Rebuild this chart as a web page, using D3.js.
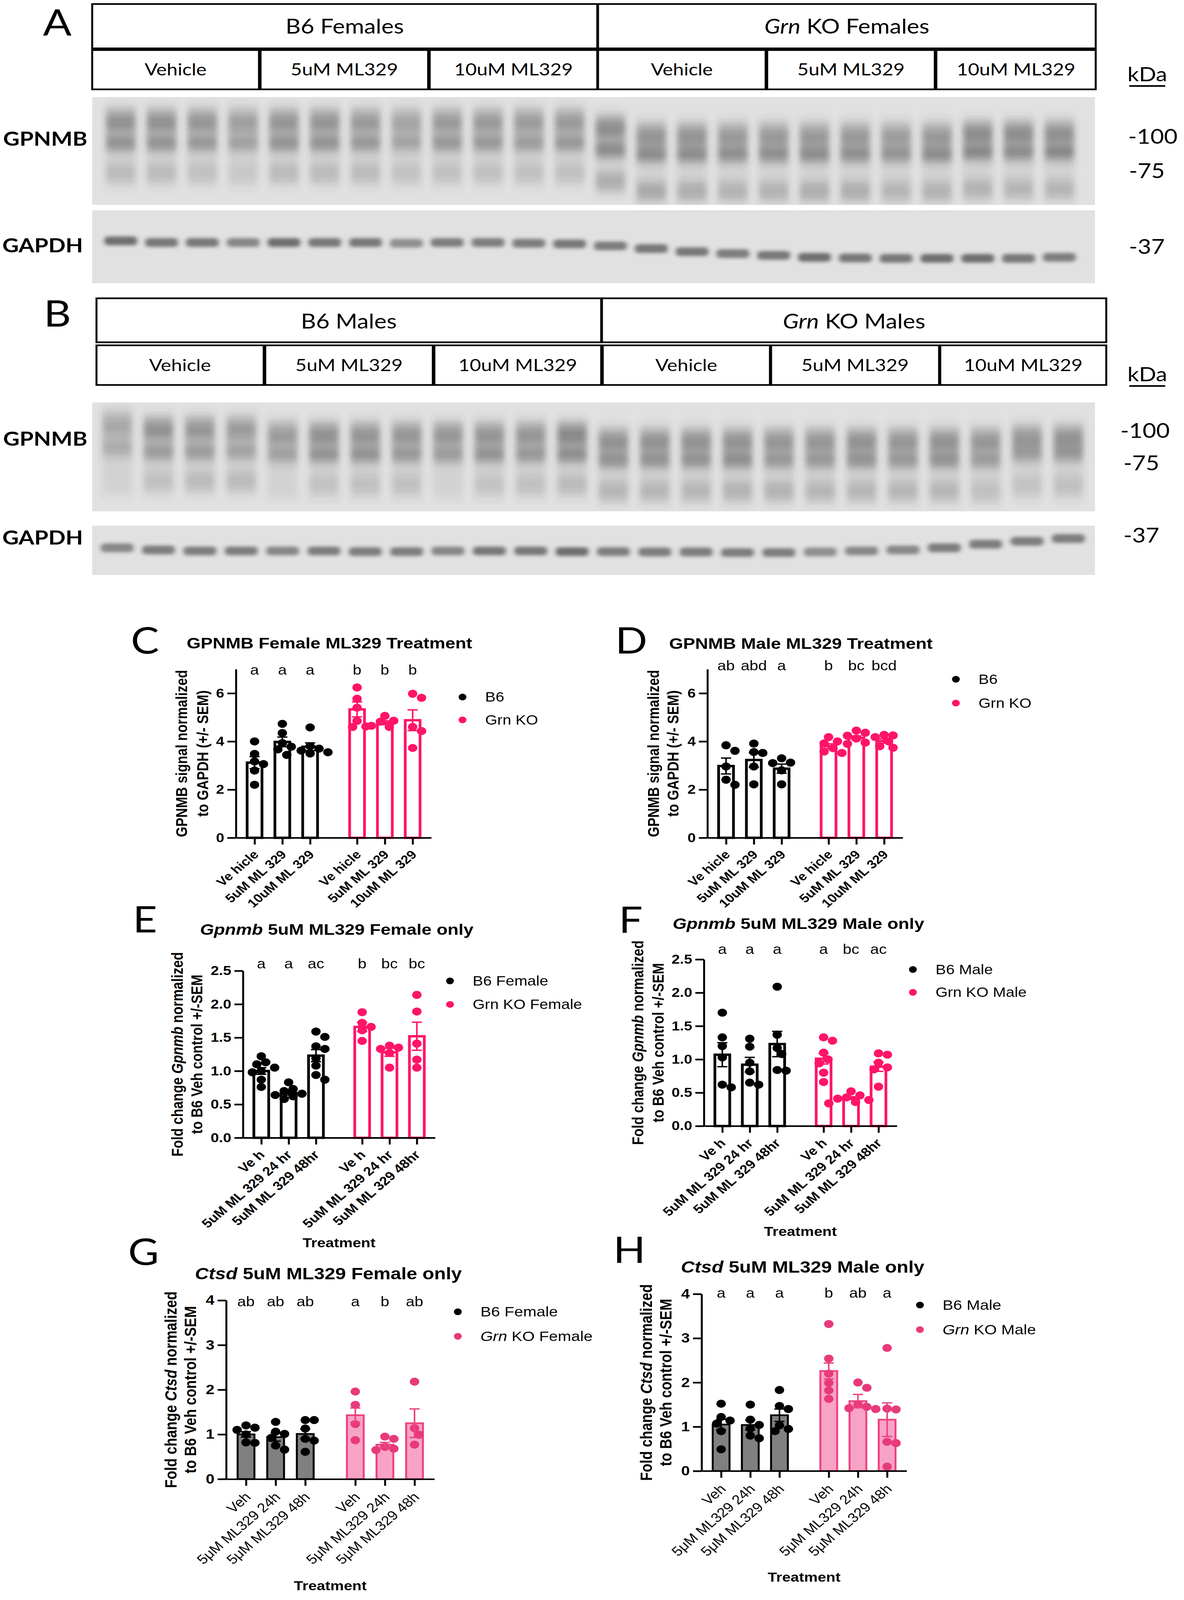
<!DOCTYPE html>
<html><head><meta charset="utf-8">
<script src="https://cdn.jsdelivr.net/npm/d3@7"></script>
<style>html,body{margin:0;padding:0;background:#fff;overflow:hidden}svg{display:block}</style>
</head><body>
<svg id="fig" viewBox="0 0 3031 4763" preserveAspectRatio="none"></svg>
<script>
// ---------------- DATA ----------------
const treatmentsAB = ["Vehicle", "5uM ML329", "10uM ML329"];
const headersA = [[{t:"B6 Females"}], [{t:"Grn", i:true}, {t:" KO Females"}]];
const headersB = [[{t:"B6 Males"}], [{t:"Grn", i:true}, {t:" KO Males"}]];
const kdaA = ["-100", "-75", "-37"];
const kdaB = ["-100", "-75", "-37"];

const blotA_upper = [0.55,0.55,0.5,0.4,0.5,0.5,0.45,0.35,0.45,0.45,0.45,0.45, 0.6,0.5,0.5,0.45,0.45,0.45,0.45,0.4,0.45,0.6,0.6,0.55];
const blotA_main  = [0.6,0.6,0.55,0.45,0.6,0.6,0.55,0.4,0.55,0.55,0.5,0.55, 0.7,0.7,0.7,0.65,0.65,0.7,0.65,0.6,0.7,0.75,0.7,0.75];
const blotA_lower = [0.25,0.25,0.2,0.1,0.25,0.25,0.25,0.15,0.2,0.2,0.2,0.2, 0.4,0.45,0.4,0.35,0.35,0.4,0.4,0.3,0.35,0.35,0.3,0.3];
const blotA_upperPos = [0.21,0.21,0.21,0.21,0.21,0.21,0.21,0.21,0.21,0.21,0.21,0.21, 0.27,0.34,0.34,0.34,0.34,0.34,0.34,0.34,0.34,0.32,0.32,0.32];
const blotA_mainPos  = [0.44,0.44,0.44,0.44,0.44,0.44,0.44,0.44,0.44,0.44,0.44,0.44, 0.50,0.54,0.54,0.54,0.54,0.54,0.54,0.54,0.54,0.52,0.52,0.52];
const blotA_lowerPos = [0.70,0.70,0.70,0.70,0.70,0.70,0.70,0.70,0.70,0.70,0.70,0.70, 0.78,0.87,0.87,0.87,0.87,0.87,0.87,0.87,0.87,0.85,0.85,0.85];
const gapdhA_pos = [0.419,0.442,0.442,0.442,0.442,0.442,0.442,0.452,0.442,0.442,0.452,0.461,0.488,0.525,0.567,0.594,0.618,0.645,0.654,0.659,0.659,0.659,0.659,0.645];
const gapdhA_int = [0.7,0.65,0.65,0.55,0.7,0.65,0.65,0.5,0.6,0.6,0.6,0.65,0.6,0.65,0.65,0.6,0.65,0.7,0.65,0.65,0.7,0.7,0.65,0.6];

const blotB_upper = [0.3,0.55,0.5,0.45,0.45,0.55,0.5,0.5,0.5,0.5,0.5,0.65,0.55,0.55,0.55,0.55,0.5,0.5,0.55,0.5,0.55,0.5,0.5,0.55];
const blotB_main  = [0.3,0.5,0.5,0.4,0.45,0.6,0.6,0.55,0.5,0.6,0.55,0.65,0.6,0.6,0.6,0.65,0.55,0.55,0.6,0.55,0.6,0.5,0.5,0.55];
const blotB_lower = [0,0.2,0.25,0.25,0,0.15,0.2,0.2,0,0.15,0.2,0.25,0.3,0.3,0.3,0.35,0.35,0.3,0.3,0.3,0.3,0.2,0.15,0.2];
const blotB_upperPos = [0.18,0.23,0.23,0.23,0.28,0.28,0.28,0.28,0.28,0.28,0.28,0.28,0.34,0.34,0.34,0.34,0.34,0.34,0.34,0.34,0.34,0.34,0.31,0.31];
const blotB_mainPos  = [0.44,0.47,0.47,0.47,0.49,0.49,0.49,0.49,0.49,0.49,0.49,0.49,0.54,0.54,0.54,0.54,0.54,0.54,0.54,0.54,0.54,0.54,0.48,0.48];
const blotB_lowerPos = [0.72,0.72,0.72,0.72,0.75,0.75,0.75,0.75,0.75,0.75,0.75,0.75,0.81,0.81,0.81,0.81,0.81,0.81,0.81,0.81,0.81,0.81,0.76,0.76];
const gapdhB_pos = [0.449,0.49,0.51,0.51,0.51,0.51,0.524,0.524,0.51,0.51,0.51,0.524,0.524,0.531,0.531,0.544,0.544,0.531,0.51,0.49,0.449,0.374,0.313,0.259];
const gapdhB_int = [0.55,0.6,0.6,0.6,0.55,0.6,0.6,0.6,0.55,0.65,0.65,0.7,0.6,0.6,0.6,0.6,0.6,0.5,0.55,0.55,0.6,0.6,0.6,0.6];

const labelsCD = ["Ve hicle", "5uM ML 329", "10uM ML 329"];
const labelsEF = ["Ve h", "5uM ML 329 24 hr", "5uM ML 329 48hr"];
const labelsGH = ["Veh", "5\u03bcM ML329 24h", "5\u03bcM ML329 48h"];
const ticksCD = [0, 2, 4, 6];
const ticksEF = [0, 0.5, 1, 1.5, 2, 2.5];
const ticksGH = [0, 1, 2, 3, 4];

const meanC = [3.12, 3.98, 3.78, 5.33, 4.78, 4.88];
const semC  = [0.25, 0.2, 0.16, 0.31, 0.08, 0.43];
const ptsC = [[4.0,3.48,3.17,3.06,2.79,2.2],[4.73,4.35,3.93,3.78,3.67,3.44],[4.58,3.8,3.7,3.62,3.55,3.5],
              [6.24,5.77,5.4,4.85,4.62,4.6],[5.06,4.86,4.82,4.65,4.6],[5.98,5.81,4.6,4.43,3.73]];
const lettersC = ["a","a","a","b","b","b"];

const meanD = [2.98, 3.23, 2.87, 3.8, 4.15, 4.02];
const semD  = [0.33, 0.3, 0.19, 0.1, 0.08, 0.09];
const ptsD = [[3.84,3.61,2.96,2.41,2.2],[3.91,3.56,3.52,2.96,2.22],[3.3,3.12,3.1,2.8,2.22],
              [4.18,4.0,3.92,3.72,3.58,3.52],[4.45,4.36,4.24,4.12,3.95,3.9],[4.27,4.25,4.18,4.0,3.8,3.74]];
const lettersD = ["ab","abd","a","b","bc","bcd"];

const meanE = [1.0, 0.67, 1.23, 1.66, 1.28, 1.52];
const semE  = [0.05, 0.03, 0.09, 0.07, 0.06, 0.21];
const ptsE = [[1.22,1.13,1.1,1.05,1.0,0.98,0.87,0.76],[0.83,0.73,0.7,0.66,0.64,0.62,0.58],[1.59,1.51,1.37,1.33,1.19,1.08,0.94,0.87],
              [1.88,1.72,1.66,1.61,1.45],[1.38,1.35,1.33,1.27,1.05],[2.14,1.89,1.41,1.17,1.05]];
const lettersE = ["a","a","ac","b","bc","bc"];

const meanF = [1.07, 0.92, 1.23, 1.01, 0.42, 0.89];
const semF  = [0.18, 0.11, 0.19, 0.08, 0.02, 0.07];
const ptsF = [[1.70,1.33,1.20,1.03,0.62,0.58],[1.31,1.19,0.95,0.82,0.65,0.62],[2.09,1.37,1.17,1.08,0.84,0.83],
              [1.33,1.28,1.1,1.0,0.94,0.8,0.66],[0.52,0.46,0.43,0.41,0.39,0.36,0.34],[1.09,1.07,0.95,0.88,0.85,0.59]];
const lettersF = ["a","a","a","a","bc","ac"];

const meanG = [1.0, 0.94, 1.01, 1.43, 0.77, 1.25];
const semG  = [0.06, 0.09, 0.11, 0.16, 0.05, 0.32];
const ptsG = [[1.20,1.15,1.10,1.0,0.82,0.81],[1.28,1.06,1.01,0.92,0.75,0.66],[1.32,1.32,1.13,0.9,0.86,0.61],
              [1.96,1.66,1.23,0.87],[0.95,0.9,0.72,0.68,0.65],[2.18,1.14,0.99,0.77]];
const lettersG = ["ab","ab","ab","a","b","ab"];

const meanH = [1.05, 1.04, 1.26, 2.26, 1.58, 1.16];
const semH  = [0.12, 0.11, 0.14, 0.18, 0.15, 0.38];
const ptsH = [[1.52,1.22,1.14,1.07,0.9,0.49],[1.5,1.16,1.04,0.96,0.8,0.74],[1.83,1.47,1.4,1.03,0.95,0.9],
              [3.32,2.54,2.2,1.99,1.82,1.63],[2.0,1.88,1.5,1.45,1.42,1.4],[2.78,1.41,1.39,0.66,0.63,0.10]];
const lettersH = ["a","a","a","b","ab","a"];

// ---------------- DRAWING ----------------
const ARIAL = "'Liberation Sans', Arial, Helvetica, sans-serif";
const CAL = "Lato, 'Open Sans', sans-serif";
const PINK = "#ff1468";
const svg = d3.select("#fig");
// the figure is laid out on a 3031x4763 canvas and stretched to fill the visible page
function fitSvg() {
  const W = window.innerWidth || 3031, H = window.innerHeight || 4763;
  svg.attr("width", W).attr("height", H);
}
fitSvg();
window.addEventListener("resize", fitSvg);

svg.append("rect").attr("width", 3031).attr("height", 4763).attr("fill", "#fff");
const defs = svg.append("defs");
defs.append("filter").attr("id", "blurG").attr("filterUnits", "userSpaceOnUse").attr("x", 0).attr("y", 0).attr("width", 3031).attr("height", 1800)
  .append("feGaussianBlur").attr("stdDeviation", "8 14");
defs.append("filter").attr("id", "blurH").attr("filterUnits", "userSpaceOnUse").attr("x", 0).attr("y", 0).attr("width", 3031).attr("height", 1800)
  .append("feGaussianBlur").attr("stdDeviation", "6 5");

function richText(sel, parts) {
  parts.forEach(p => sel.append("tspan").text(p.t).attr("font-style", p.i ? "italic" : null));
  return sel;
}

function panelLetter(t, x, y) {
  svg.append("text").attr("x", x).attr("y", y).attr("font-family", CAL).attr("font-size", 108)
    .attr("fill", "#000").text(t);
}

function drawBlot(b) {
  const g = svg.append("g");
  b.topBoxes.forEach((bx, i) => {
    g.append("rect").attr("x", bx[0]).attr("y", b.topY[0]).attr("width", bx[1] - bx[0]).attr("height", b.topY[1] - b.topY[0])
      .attr("fill", "#fff").attr("stroke", "#000").attr("stroke-width", 5);
    richText(g.append("text").attr("x", (bx[0] + bx[1]) / 2).attr("y", b.topBase).attr("text-anchor", "middle")
      .attr("font-family", CAL).attr("font-size", 60).attr("fill", "#000"), b.headers[i]);
  });
  b.subBoxes.forEach((bx, i) => {
    g.append("rect").attr("x", bx[0]).attr("y", b.subY[0]).attr("width", bx[1] - bx[0]).attr("height", b.subY[1] - b.subY[0])
      .attr("fill", "#fff").attr("stroke", "#000").attr("stroke-width", 5);
    g.append("text").attr("x", (bx[0] + bx[1]) / 2).attr("y", b.subBase).attr("text-anchor", "middle")
      .attr("font-family", CAL).attr("font-size", 50).attr("fill", "#000").text(treatmentsAB[i % 3]);
  });
  g.append("text").attr("x", b.kdaX).attr("y", b.kdaBase).attr("text-anchor", "middle").attr("font-family", CAL)
    .attr("font-size", 58).attr("fill", "#000").text("kDa");
  g.append("line").attr("x1", b.kdaX - 46).attr("x2", b.kdaX + 46).attr("y1", b.kdaBase + 14).attr("y2", b.kdaBase + 14)
    .attr("stroke", "#000").attr("stroke-width", 5);
  const lx = d3.scaleLinear().domain([0, 23]).range(b.laneRange);
  const gy = d3.scaleLinear().domain([0, 1]).range(b.gpY);
  const hy = d3.scaleLinear().domain([0, 1]).range(b.ghY);
  g.append("rect").attr("x", b.blotX[0]).attr("y", b.gpY[0]).attr("width", b.blotX[1] - b.blotX[0]).attr("height", b.gpY[1] - b.gpY[0]).attr("fill", "#e1e1e1");
  g.append("rect").attr("x", b.blotX[0]).attr("y", b.ghY[0]).attr("width", b.blotX[1] - b.blotX[0]).attr("height", b.ghY[1] - b.ghY[0]).attr("fill", "#e1e1e1");
  const cid = "clip" + b.id;
  const cp = defs.append("clipPath").attr("id", cid);
  cp.append("rect").attr("x", b.blotX[0]).attr("y", b.gpY[0]).attr("width", b.blotX[1] - b.blotX[0]).attr("height", b.gpY[1] - b.gpY[0]);
  cp.append("rect").attr("x", b.blotX[0]).attr("y", b.ghY[0]).attr("width", b.blotX[1] - b.blotX[0]).attr("height", b.ghY[1] - b.ghY[0]);
  const clipG = g.append("g").attr("clip-path", `url(#${cid})`);
  const bandG = clipG.append("g").attr("filter", "url(#blurG)");
  const lw = 76;
  d3.range(24).forEach(i => {
    const cx = lx(i);
    bandG.append("rect").attr("x", cx - lw / 2).attr("y", gy(b.upperPos[i] - 0.14)).attr("width", lw)
      .attr("height", gy(b.lowerPos[i] + 0.13) - gy(b.upperPos[i] - 0.14)).attr("fill", "#444").attr("opacity", 0.1);
    bandG.append("rect").attr("x", cx - lw / 2).attr("y", gy(b.upperPos[i])).attr("width", lw)
      .attr("height", gy(b.mainPos[i]) - gy(b.upperPos[i])).attr("fill", "#444").attr("opacity", 0.12 + 0.15 * b.main[i]);
    [[b.upper, b.upperPos, 0.17], [b.main, b.mainPos, 0.12], [b.lower, b.lowerPos, 0.16]].forEach(([ints, pos, h]) => {
      if (ints[i] <= 0) return;
      bandG.append("rect").attr("x", cx - lw / 2).attr("y", gy(pos[i] - h / 2)).attr("width", lw)
        .attr("height", gy(h) - gy(0)).attr("fill", "#3a3a3a").attr("opacity", Math.min(1, ints[i] * 0.62));
    });
  });
  const gaG = clipG.append("g").attr("filter", "url(#blurH)");
  d3.range(24).forEach(i => {
    const cx = lx(i);
    gaG.append("rect").attr("x", cx - 42).attr("y", hy(b.gaPos[i]) - 13).attr("width", 84).attr("height", 26).attr("rx", 10)
      .attr("fill", "#2a2a2a").attr("opacity", Math.min(1, b.gaInt[i] * 0.9));
  });
  g.append("text").attr("x", 8).attr("y", b.gpLabelBase).attr("font-family", CAL).attr("font-weight", "bold").attr("font-size", 58).attr("fill", "#000").text("GPNMB");
  g.append("text").attr("x", 6).attr("y", b.ghLabelBase).attr("font-family", CAL).attr("font-weight", "bold").attr("font-size", 58).attr("fill", "#000").text("GAPDH");
  b.kda.forEach((k, i) => {
    g.append("text").attr("x", b.kdaPos[i][0]).attr("y", b.kdaPos[i][1]).attr("font-family", CAL).attr("font-size", 60).attr("fill", "#000").text(k);
  });
}

drawBlot({
  id: "A", headers: headersA, kda: kdaA,
  topBoxes: [[236, 1529], [1531, 2805]], topY: [12, 144], topBase: 100,
  subBoxes: [[236, 663], [667, 1096], [1100, 1529], [1531, 1960], [1964, 2393], [2397, 2805]], subY: [149, 266], subBase: 225,
  kdaX: 2937, kdaBase: 242,
  blotX: [236, 2803], gpY: [289, 610], ghY: [626, 843], laneRange: [309, 2712],
  upper: blotA_upper, main: blotA_main, lower: blotA_lower,
  upperPos: blotA_upperPos, mainPos: blotA_mainPos, lowerPos: blotA_lowerPos,
  gaPos: gapdhA_pos, gaInt: gapdhA_int,
  gpLabelBase: 434, ghLabelBase: 751,
  kdaPos: [[2888, 428], [2890, 530], [2890, 756]]
});
drawBlot({
  id: "B", headers: headersB, kda: kdaB,
  topBoxes: [[247, 1539], [1541, 2832]], topY: [888, 1019], topBase: 978,
  subBoxes: [[247, 675], [679, 1108], [1112, 1539], [1543, 1971], [1974, 2404], [2407, 2832]], subY: [1028, 1146], subBase: 1105,
  kdaX: 2937, kdaBase: 1135,
  blotX: [236, 2803], gpY: [1198, 1522], ghY: [1565, 1712], laneRange: [300, 2735],
  upper: blotB_upper, main: blotB_main, lower: blotB_lower,
  upperPos: blotB_upperPos, mainPos: blotB_mainPos, lowerPos: blotB_lowerPos,
  gaPos: gapdhB_pos, gaInt: gapdhB_int,
  gpLabelBase: 1327, ghLabelBase: 1621,
  kdaPos: [[2868, 1304], [2876, 1400], [2876, 1615]]
});

panelLetter("A", 110, 106);
panelLetter("B", 112, 972);

function swarm(vals, y, r) {
  const placed = [];
  return vals.map(v => {
    const py = y(v);
    let off = 0;
    for (let k = 0; k < 30; k++) {
      const cand = k === 0 ? 0 : (k % 2 ? 1 : -1) * Math.ceil(k / 2) * r * 0.95;
      if (placed.every(p => Math.hypot(p.x - cand, p.y - py) >= r * 1.7)) { off = cand; break; }
    }
    placed.push({ x: off, y: py });
    return { x: off, y: py };
  });
}

function drawChart(c) {
  const g = svg.append("g").attr("font-family", ARIAL);
  const y = d3.scaleLinear().domain([0, c.yMax]).range([c.zero, c.top]);
  const x = d3.scaleLinear().domain([-0.67, 6.36]).range([c.x0, c.x1]);
  const xs = d3.range(6).map(i => i + (i >= 3 ? 0.69 : 0));
  const colDot = i => i >= 3 ? c.koDot : "#000";
  c.means.forEach((m, i) => {
    g.append("rect").attr("x", x(xs[i]) - c.barW / 2).attr("y", y(m)).attr("width", c.barW).attr("height", y(0) - y(m))
      .attr("fill", i >= 3 ? c.koFill : c.b6Fill).attr("stroke", i >= 3 ? c.koStroke : "#000").attr("stroke-width", c.barSW);
  });
  c.pts.forEach((arr, i) => {
    swarm(arr, y, c.r).forEach(p => {
      g.append("circle").attr("cx", x(xs[i]) + p.x).attr("cy", p.y).attr("r", c.r).attr("fill", colDot(i));
    });
  });
  c.means.forEach((m, i) => {
    const cx = x(xs[i]);
    const col = i >= 3 ? c.koStroke : "#000";
    const lo = y(m - c.sems[i]), hi = y(m + c.sems[i]);
    g.append("line").attr("x1", cx).attr("x2", cx).attr("y1", lo).attr("y2", hi).attr("stroke", col).attr("stroke-width", 4);
    [lo, hi].forEach(yy => g.append("line").attr("x1", cx - 13).attr("x2", cx + 13).attr("y1", yy).attr("y2", yy).attr("stroke", col).attr("stroke-width", 4));
  });
  const ya = g.append("g").attr("transform", `translate(${c.x0},0)`)
    .call(d3.axisLeft(y).tickValues(c.ticks).tickFormat(c.fmt).tickSize(22).tickSizeOuter(0).tickPadding(8));
  ya.select(".domain").attr("stroke", "#000").attr("stroke-width", 5);
  ya.selectAll(".tick line").attr("stroke", "#000").attr("stroke-width", 5);
  ya.selectAll(".tick text").attr("font-size", c.tickFs).attr("font-weight", "bold").attr("fill", "#000").attr("font-family", ARIAL);
  const xa = g.append("g").attr("transform", `translate(0,${c.zero})`)
    .call(d3.axisBottom(x).tickValues(xs).tickSize(20).tickSizeOuter(0).tickFormat((d, i) => c.labels[i % 3]));
  xa.select(".domain").attr("stroke", "#000").attr("stroke-width", 5);
  xa.selectAll(".tick line").attr("stroke", "#000").attr("stroke-width", 5);
  xa.selectAll(".tick text").attr("x", 0).attr("y", 0).attr("dy", 0)
    .attr("transform", `translate(${c.lblDx},${c.lblDy}) rotate(-45)`).attr("text-anchor", "end")
    .attr("font-size", c.lblFs).attr("font-weight", c.lblW).attr("fill", "#000").attr("font-family", ARIAL);
  c.letters.forEach((t, i) => {
    g.append("text").attr("x", x(xs[i])).attr("y", c.letterBase).attr("text-anchor", "middle")
      .attr("font-size", 40).attr("fill", "#000").text(t);
  });
  c.legend.forEach((parts, i) => {
    g.append("circle").attr("cx", c.legX).attr("cy", c.legY[i]).attr("r", 10).attr("fill", i ? c.koDot : "#000");
    richText(g.append("text").attr("x", c.legX + 58).attr("y", c.legY[i] + 14).attr("font-size", c.legFs).attr("fill", "#000"), parts);
  });
  richText(g.append("text").attr("x", c.titleX).attr("y", c.titleBase).attr("font-size", c.titleFs).attr("font-weight", "bold").attr("fill", "#000"), c.title);
  const cy = (c.zero + c.top) / 2;
  c.ylab.forEach((parts, i) => {
    richText(g.append("text").attr("transform", `translate(${c.ylabX[i]},${cy}) rotate(-90)`).attr("text-anchor", "middle")
      .attr("font-size", c.ylabFs).attr("font-weight", "bold").attr("fill", "#000"), parts);
  });
  if (c.treat) {
    g.append("text").attr("x", (c.x0 + c.x1) / 2).attr("y", c.treatBase).attr("text-anchor", "middle")
      .attr("font-size", 39).attr("font-weight", "bold").attr("fill", "#000").text("Treatment");
  }
}

const styleA = { b6Fill: "#fff", koFill: "#fff", koStroke: PINK, koDot: PINK, barSW: 7, r: 12, barW: 38, lblW: "bold" };
const styleB = { b6Fill: "#808080", koFill: "#f8a3c6", koStroke: "#ec4381", koDot: "#e83a7a", barSW: 5, r: 12, barW: 43, lblW: "normal" };
const fmtInt = d3.format("d"), fmt1 = d3.format(".1f");
const legGP = [[{t:"B6"}], [{t:"Grn KO"}]];
const ylabCD = [[{t:"GPNMB signal normalized"}], [{t:"to GAPDH (+/- SEM)"}]];
const ylabEF = [[{t:"Fold change "}, {t:"Gpnmb", i:true}, {t:" normalized"}], [{t:"to B6 Veh control +/-SEM"}]];
const ylabGH = [[{t:"Fold change "}, {t:"Ctsd", i:true}, {t:" normalized"}], [{t:"to B6 Veh control +/-SEM"}]];

drawChart(Object.assign({}, styleA, {
  x0: 604, x1: 1104, zero: 2494, top: 1992, yMax: 7, ticks: ticksCD, fmt: fmtInt, tickFs: 38,
  means: meanC, sems: semC, pts: ptsC, letters: lettersC, letterBase: 2008, labels: labelsCD, lblFs: 36, lblDx: 12, lblDy: 52,
  legend: legGP, legX: 1184, legY: [2075, 2143], legFs: 40,
  title: [{t:"GPNMB Female ML329 Treatment"}], titleX: 478, titleBase: 1930, titleFs: 46,
  ylab: ylabCD, ylabX: [479, 533], ylabFs: 40, treat: false
}));
drawChart(Object.assign({}, styleA, {
  x0: 1811, x1: 2311, zero: 2494, top: 1992, yMax: 7, ticks: ticksCD, fmt: fmtInt, tickFs: 38,
  means: meanD, sems: semD, pts: ptsD, letters: lettersD, letterBase: 1996, labels: labelsCD, lblFs: 36, lblDx: 12, lblDy: 52,
  legend: legGP, legX: 2447, legY: [2022, 2093], legFs: 40,
  title: [{t:"GPNMB Male ML329 Treatment"}], titleX: 1713, titleBase: 1931, titleFs: 46,
  ylab: ylabCD, ylabX: [1687, 1737], ylabFs: 40, treat: false
}));
drawChart(Object.assign({}, styleA, {
  x0: 622, x1: 1114, zero: 3387, top: 2890, yMax: 2.5, ticks: ticksEF, fmt: fmt1, tickFs: 38,
  means: meanE, sems: semE, pts: ptsE, letters: lettersE, letterBase: 2883, labels: labelsEF, lblFs: 37, lblDx: 10, lblDy: 53,
  legend: [[{t:"B6 Female"}], [{t:"Grn KO Female"}]], legX: 1152, legY: [2920, 2990], legFs: 40,
  title: [{t:"Gpnmb", i:true}, {t:" 5uM ML329 Female only"}], titleX: 512, titleBase: 2783, titleFs: 46,
  ylab: ylabEF, ylabX: [468, 518], ylabFs: 40, treat: true, treatBase: 3713
}));
drawChart(Object.assign({}, styleA, {
  x0: 1802, x1: 2296, zero: 3352, top: 2856, yMax: 2.5, ticks: ticksEF, fmt: fmt1, tickFs: 38,
  means: meanF, sems: semF, pts: ptsF, letters: lettersF, letterBase: 2840, labels: labelsEF, lblFs: 37, lblDx: 10, lblDy: 53,
  legend: [[{t:"B6 Male"}], [{t:"Grn KO Male"}]], legX: 2337, legY: [2886, 2954], legFs: 40,
  title: [{t:"Gpnmb", i:true}, {t:" 5uM ML329 Male only"}], titleX: 1722, titleBase: 2765, titleFs: 46,
  ylab: ylabEF, ylabX: [1647, 1699], ylabFs: 40, treat: true, treatBase: 3679
}));
drawChart(Object.assign({}, styleB, {
  x0: 579, x1: 1112, zero: 4403, top: 3871, yMax: 4, ticks: ticksGH, fmt: fmtInt, tickFs: 40,
  means: meanG, sems: semG, pts: ptsG, letters: lettersG, letterBase: 3889, labels: labelsGH, lblFs: 39, lblDx: 14, lblDy: 56,
  legend: [[{t:"B6 Female"}], [{t:"Grn", i:true}, {t:" KO Female"}]], legX: 1172, legY: [3905, 3978], legFs: 41,
  title: [{t:"Ctsd", i:true}, {t:" 5uM ML329 Female only"}], titleX: 499, titleBase: 3808, titleFs: 49,
  ylab: ylabGH, ylabX: [452, 502], ylabFs: 42, treat: true, treatBase: 4734
}));
drawChart(Object.assign({}, styleB, {
  x0: 1796, x1: 2321, zero: 4379, top: 3852, yMax: 4, ticks: ticksGH, fmt: fmtInt, tickFs: 40,
  means: meanH, sems: semH, pts: ptsH, letters: lettersH, letterBase: 3863, labels: labelsGH, lblFs: 39, lblDx: 14, lblDy: 56,
  legend: [[{t:"B6 Male"}], [{t:"Grn", i:true}, {t:" KO Male"}]], legX: 2355, legY: [3885, 3958], legFs: 41,
  title: [{t:"Ctsd", i:true}, {t:" 5uM ML329 Male only"}], titleX: 1743, titleBase: 3788, titleFs: 49,
  ylab: ylabGH, ylabX: [1669, 1719], ylabFs: 42, treat: true, treatBase: 4708
}));

panelLetter("C", 335, 1945);
panelLetter("D", 1575, 1945);
panelLetter("E", 340, 2776);
panelLetter("F", 1584, 2777);
panelLetter("G", 328, 3765);
panelLetter("H", 1570, 3760);
</script>
</body></html>
